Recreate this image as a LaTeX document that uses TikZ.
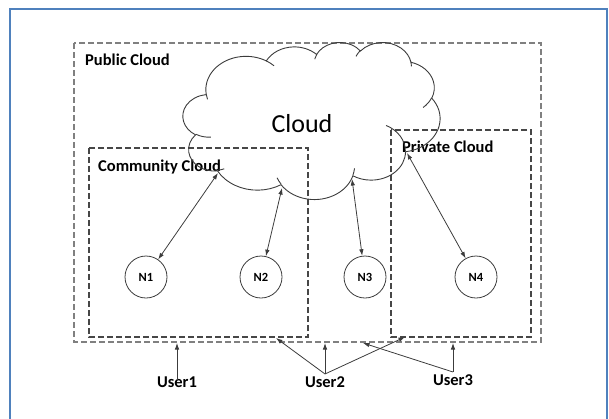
\documentclass[tikz,border=0pt]{standalone}
\usepackage{fontspec}
\usetikzlibrary{arrows.meta}
\setmainfont{Carlito}
\definecolor{framecol}{RGB}{79,129,189}
\definecolor{linecol}{RGB}{60,60,60}
\tikzset{
  outerbox/.style={draw=black!50, line width=1.1pt, dash pattern=on 6pt off 3pt},
  box/.style={draw=black!72, line width=1.1pt, dash pattern=on 6pt off 3pt},
  boxlabel/.style={anchor=base west, inner sep=0pt, font=\fontsize{16.5}{16.5}\selectfont\bfseries},
  machine/.style={circle, draw=linecol, line width=0.8pt, minimum size=42pt, inner sep=0pt,
    font=\fontsize{12.5}{12.5}\selectfont\bfseries},
  user/.style={anchor=base, inner sep=2pt, font=\fontsize{16.5}{16.5}\selectfont\bfseries},
  link/.style={draw=linecol, line width=0.8pt},
  cloudline/.style={draw=linecol, line width=0.9pt},
}
% one puff of the cloud: visual start angle, sweep, x radius, y radius
\newcommand{\puff}[4]{
  arc[start angle={atan2(#3*sin(#1),#4*cos(#1))},
      delta angle={mod(atan2(#3*sin(#1+#2),#4*cos(#1+#2))-atan2(#3*sin(#1),#4*cos(#1))+720,360)},
      x radius=#3, y radius=#4]
}

\begin{document}
\begin{tikzpicture}[x=1pt,y=-1pt,>={Latex[length=6.5pt,width=4.5pt]}]
\clip (0,0) rectangle (609,418);
\draw[framecol, line width=1.6pt] (10,9) rectangle (607,440);

% the three clouds
\draw[outerbox] (74,43) rectangle (541,342);
\draw[box] (89,148) rectangle (308,337);
\draw[box] (391,130) rectangle (531,337);
\node[boxlabel] (pub) at (85,65) {Public Cloud};
\node[boxlabel] (comm) at (98,171) {Community Cloud};
\node[boxlabel] (priv) at (402,152) {Private Cloud};

% cloud outline
\begin{scope}[shift={(183,42)}, x=0.5949pt, y=-0.3634pt]
\draw[cloudline] (39.00,143.70)
  \puff{-190.487}{123.781}{67.53}{91.90}
  \puff{-144.102}{89.945}{53.33}{72.67}
  \puff{-145.808}{99.723}{43.65}{59.45}
  \puff{-130.986}{117.242}{48.57}{65.95}
  \puff{-78.709}{109.027}{53.33}{72.73}
  \puff{-46.267}{130.269}{67.75}{92.20}
  \puff{0.625}{114.033}{57.85}{78.67}
  \puff{22.452}{115.173}{67.52}{92.15}
  \puff{66.243}{75.711}{77.20}{105.43}
  \puff{-274.942}{146.736}{43.60}{59.18}
  \puff{-246.829}{152.519}{43.45}{59.45} -- cycle;
\draw[cloudline]
  (46.93,261.77) \puff{86.742}{26.430}{43.45}{59.45}
  (69.28,348.99) \puff{73.610}{11.447}{43.60}{59.18}
  (164.78,390.90) \puff{137.624}{14.081}{67.52}{92.15}
  (288.27,347.51) \puff{6.453}{15.998}{67.52}{92.15}
  (341.29,229.54) \puff{-70.292}{70.917}{57.85}{78.67}
  (417.98,153.54) \puff{30.318}{27.752}{53.33}{72.73}
  (383.24,54.26) \puff{-13.744}{14.859}{48.57}{65.95}
  (290.78,39.52) \puff{-149.181}{18.195}{48.57}{65.95}
  (221.41,47.20) \puff{-163.494}{17.686}{43.65}{59.45}
  (140.00,51.92) \puff{-66.707}{12.319}{67.53}{91.90}
  (41.27,157.89) \puff{157.654}{11.858}{67.53}{91.90};
\end{scope}
\node[anchor=base, font=\fontsize{26}{26}\selectfont] (cloud) at (302,132) {Cloud};

% nodes
\node[machine] (n1) at (146,277) {N1};
\node[machine] (n2) at (261,277) {N2};
\node[machine] (n3) at (365,277) {N3};
\node[machine] (n4) at (476,277) {N4};

\coordinate (c1) at (218,173);
\coordinate (c2) at (282,188);
\coordinate (c3) at (352,179);
\coordinate (c4) at (407,153);

\draw[link,<->] (n1) -- (c1);
\draw[link,<->] (n2) -- (c2);
\draw[link,<->] (n3) -- (c3);
\draw[link,<->] (n4) -- (c4);

% users
\node[user] (u1) at (177,387) {User1};
\node[user] (u2) at (325,387) {User2};
\node[user] (u3) at (453,385) {User3};

\coordinate (e1) at (177,343);
\coordinate (e2) at (276,338);
\coordinate (e3) at (325,343);
\coordinate (e4) at (405,337);
\coordinate (e5) at (363,343);
\coordinate (e6) at (453,343);

\draw[link,->] ([yshift=-6pt]u1.north) -- (e1);
\draw[link,->] (u2.north) -- (e2);
\draw[link,->] (u2.north) -- (e3);
\draw[link,->] (u2.north) -- (e4);
\draw[link,->] (u3.north) -- (e5);
\draw[link,->] (u3.north) -- (e6);
\end{tikzpicture}
\end{document}
